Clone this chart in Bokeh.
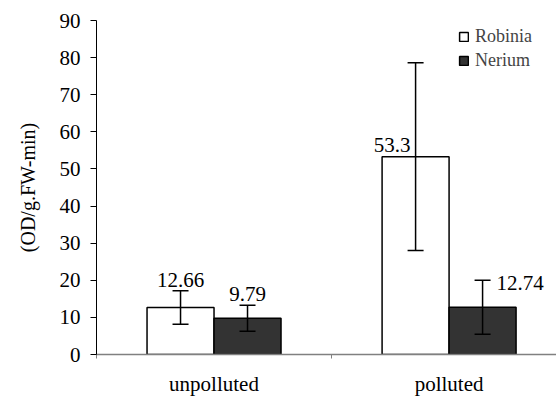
from bokeh.plotting import figure
from bokeh.models import (ColumnDataSource, Range1d, FixedTicker, Whisker, TeeHead,
                          LabelSet, Legend, LegendItem)
from bokeh.embed import file_html
from bokeh.resources import INLINE

# ---- data ----
categories = ["unpolluted", "polluted"]
series_names = ["Robinia", "Nerium"]
robinia = [12.66, 53.3]
nerium = [9.79, 12.74]
robinia_err = [4.5, 25.3]
nerium_err = [3.5, 7.3]
y_ticks = [0, 10, 20, 30, 40, 50, 60, 70, 80, 90]
y_title = "(OD/g.FW-min)"

FONT = "Liberation Serif"
BAR_W = 0.285
OFF = BAR_W / 2

p = figure(width=556, height=398, x_range=Range1d(0, 1.957), y_range=Range1d(0, 90),
           output_backend="svg", toolbar_location=None,
           min_border_left=96, min_border_right=0, min_border_top=20, min_border_bottom=43)
p.outline_line_color = None
p.xgrid.visible = False
p.ygrid.visible = False
p.background_fill_color = "white"

idx = list(range(len(categories)))
src_r = ColumnDataSource(dict(
    x=[i + 0.5 - OFF for i in idx], top=robinia,
    upper=[v + e for v, e in zip(robinia, robinia_err)],
    lower=[v - e for v, e in zip(robinia, robinia_err)]))
src_n = ColumnDataSource(dict(
    x=[i + 0.5 + OFF for i in idx], top=nerium,
    upper=[v + e for v, e in zip(nerium, nerium_err)],
    lower=[v - e for v, e in zip(nerium, nerium_err)]))

r1 = p.vbar(x="x", top="top", width=BAR_W, source=src_r, fill_color="white",
            line_color="black", line_width=1.5)
r2 = p.vbar(x="x", top="top", width=BAR_W, source=src_n, fill_color="#333333",
            line_color="black", line_width=1.5)

for s in (src_r, src_n):
    w = Whisker(base="x", upper="upper", lower="lower", source=s,
                line_color="black", line_width=1.5, level="overlay",
                upper_head=TeeHead(size=16, line_color="black", line_width=1.5),
                lower_head=TeeHead(size=16, line_color="black", line_width=1.5))
    p.add_layout(w)

# value labels
xr = [i + 0.5 - OFF for i in idx]
xn = [i + 0.5 + OFF for i in idx]
lab = ColumnDataSource(dict(
    x=[xr[0], xn[0], xr[1], xn[1]],
    y=[robinia[0] + robinia_err[0], nerium[0] + nerium_err[0], robinia[1], nerium[1] + nerium_err[1]],
    text=[str(robinia[0]), str(nerium[0]), str(robinia[1]), str(nerium[1])],
    align=["center", "center", "right", "left"],
    baseline=["alphabetic", "alphabetic", "alphabetic", "middle"],
    xo=[0, 0, -5, 14],
    yo=[4, 4, 5, -3],
))
ls = LabelSet(x="x", y="y", text="text", source=lab, text_align={"field": "align"},
              text_baseline={"field": "baseline"}, x_offset="xo", y_offset="yo",
              text_font=FONT, text_font_size="21px", text_color="black", level="overlay")
p.add_layout(ls)

# axes
ya = p.yaxis[0]
ya.ticker = FixedTicker(ticks=y_ticks)
ya.major_tick_out = 6
ya.major_tick_in = 0
ya.minor_tick_out = 0
ya.minor_tick_in = 0
ya.axis_line_color = "black"
ya.major_tick_line_color = "black"
ya.major_label_text_font = FONT
ya.major_label_text_font_size = "21px"
ya.major_label_text_color = "black"
ya.major_label_standoff = 10
ya.axis_label = y_title
ya.axis_label_text_font = FONT
ya.axis_label_text_font_size = "20px"
ya.axis_label_text_font_style = "normal"
ya.axis_label_text_color = "black"
ya.axis_label_standoff = 18

xa = p.xaxis[0]
centers = [i + 0.5 for i in idx]
xa.ticker = FixedTicker(ticks=centers, minor_ticks=[i for i in range(len(categories) + 1)])
xa.major_label_overrides = {c: n for c, n in zip(centers, categories)}
xa.major_tick_out = 0
xa.major_tick_in = 0
xa.minor_tick_out = 4
xa.minor_tick_in = 0
xa.minor_tick_line_color = "#808080"
xa.axis_line_color = "#808080"
xa.axis_line_width = 1.5
xa.major_label_text_font = FONT
xa.major_label_text_font_size = "21px"
xa.major_label_text_color = "black"
xa.major_label_standoff = 13

legend = Legend(items=[LegendItem(label=series_names[0], renderers=[r1]),
                       LegendItem(label=series_names[1], renderers=[r2])],
                location=(362, 283), label_text_font=FONT, label_text_font_size="18px",
                glyph_width=11, glyph_height=11, label_height=22, spacing=2,
                padding=0, margin=0, border_line_color=None, background_fill_alpha=0,
                label_standoff=6)
p.add_layout(legend)

open("out.html", "w").write(file_html(p, INLINE))
